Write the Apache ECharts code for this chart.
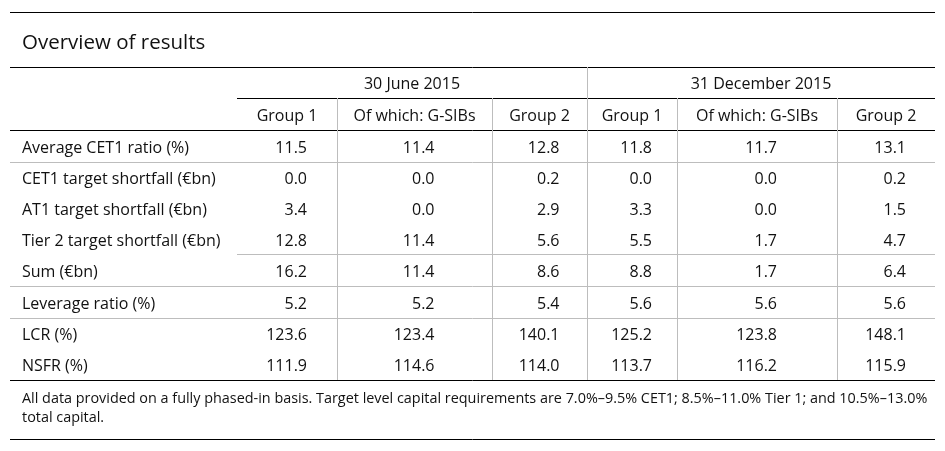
<!DOCTYPE html>
<html>
<head>
<meta charset="utf-8">
<script src="https://cdn.jsdelivr.net/npm/echarts@6/dist/echarts.min.js"></script>
<style>
html,body{margin:0;padding:0;background:#fff;}
#c{width:945px;height:451px;}
</style>
</head>
<body>
<div id="c"></div>
<script>
// ---- data ----
const titleText = 'Overview of results';
const periods = ['30 June 2015', '31 December 2015'];
const groups = ['Group 1', 'Of which: G-SIBs', 'Group 2'];
const metrics = ['Average CET1 ratio (%)', 'CET1 target shortfall (€bn)', 'AT1 target shortfall (€bn)',
  'Tier 2 target shortfall (€bn)', 'Sum (€bn)', 'Leverage ratio (%)', 'LCR (%)', 'NSFR (%)'];
const jun2015Group1 = [11.5, 0.0, 3.4, 12.8, 16.2, 5.2, 123.6, 111.9];
const jun2015GSIBs  = [11.4, 0.0, 0.0, 11.4, 11.4, 5.2, 123.4, 114.6];
const jun2015Group2 = [12.8, 0.2, 2.9, 5.6, 8.6, 5.4, 140.1, 114.0];
const dec2015Group1 = [11.8, 0.0, 3.3, 5.5, 8.8, 5.6, 125.2, 113.7];
const dec2015GSIBs  = [11.7, 0.0, 0.0, 1.7, 1.7, 5.6, 123.8, 116.2];
const dec2015Group2 = [13.1, 0.2, 1.5, 4.7, 6.4, 5.6, 148.1, 115.9];
const footnoteLines = [
  'All data provided on a fully phased-in basis. Target level capital requirements are 7.0%–9.5% CET1; 8.5%–11.0% Tier 1; and 10.5%–13.0%',
  'total capital.'
];
// rows after which a full-width separator is drawn / partial separator (index of row above the line)
const fullSeparatorsAfter = [0, 4, 5];
const partialSeparatorsAfter = [3];

// ---- layout ----
const FONT = '"Open Sans", "Noto Sans", sans-serif';
const W = 945, H = 451;
const colEdges = [10, 237, 337, 492, 587, 677, 837, 935];
const topRule = 12, titleRule = 67, dateRule = 98, headRule = 130;
const rowEdges = [130, 162, 193, 224, 254, 286, 318, 349, 380];
const bottomRule = 439;
const labelX = 22;
const numHalf = 20;
const textDy = 2;
const BLACK = '#000', GREY = '#bdbdbd', TXT = '#111';

const columns = [jun2015Group1, jun2015GSIBs, jun2015Group2, dec2015Group1, dec2015GSIBs, dec2015Group2];
const L = colEdges[0], R = colEdges[colEdges.length - 1];

// rules: [x1, y1, x2, y2, color]
const rules = [];
[topRule, titleRule, headRule, rowEdges[rowEdges.length - 1], bottomRule].forEach(y => rules.push([L, y, R, y, BLACK]));
rules.push([colEdges[1], dateRule, R, dateRule, BLACK]);
fullSeparatorsAfter.forEach(r => rules.push([L, rowEdges[r + 1], R, rowEdges[r + 1], GREY]));
partialSeparatorsAfter.forEach(r => rules.push([colEdges[1], rowEdges[r + 1], R, rowEdges[r + 1], GREY]));
for (let c = 2; c < colEdges.length - 1; c++) {
  const yTop = (c === 1 + groups.length) ? titleRule : dateRule;
  rules.push([colEdges[c], yTop, colEdges[c], rowEdges[rowEdges.length - 1], GREY]);
}

// text cells: [x, y, text, align]
const texts = [];
periods.forEach((p, i) => {
  const x0 = colEdges[1 + i * groups.length], x1 = colEdges[1 + (i + 1) * groups.length];
  texts.push([(x0 + x1) / 2, (titleRule + dateRule) / 2 + textDy, p, 'center']);
  groups.forEach((g, j) => {
    const c = 1 + i * groups.length + j;
    texts.push([(colEdges[c] + colEdges[c + 1]) / 2, (dateRule + headRule) / 2 + textDy, g, 'center']);
  });
});
metrics.forEach((m, r) => {
  const yc = (rowEdges[r] + rowEdges[r + 1]) / 2 + textDy;
  texts.push([labelX, yc, m, 'left']);
  columns.forEach((col, c) => {
    const xc = (colEdges[c + 1] + colEdges[c + 2]) / 2;
    texts.push([xc + numHalf, yc, col[r].toFixed(1), 'right']);
  });
});

const chart = echarts.init(document.getElementById('c'), null, {renderer: 'canvas'});
chart.setOption({
  backgroundColor: '#fff',
  animation: false,
  title: {
    text: titleText, left: labelX - 5, top: 28,
    textStyle: {fontFamily: FONT, fontSize: 20.5, fontWeight: 'normal', color: TXT}
  },
  grid: {left: 0, right: 0, top: 0, bottom: 0},
  xAxis: {type: 'value', min: 0, max: W, show: false},
  yAxis: {type: 'value', min: 0, max: H, inverse: true, show: false},
  series: [
    {
      type: 'custom', name: 'rules', silent: true,
      data: rules.map(r => [r[0], r[1], r[2], r[3]]),
      renderItem: function (params, api) {
        const p1 = api.coord([api.value(0), api.value(1)]);
        const p2 = api.coord([api.value(2), api.value(3)]);
        const horiz = p1[1] === p2[1];
        const o = 0.5;
        return {
          type: 'line',
          shape: horiz
            ? {x1: p1[0], y1: Math.round(p1[1]) + o, x2: p2[0], y2: Math.round(p2[1]) + o}
            : {x1: Math.round(p1[0]) + o, y1: p1[1], x2: Math.round(p2[0]) + o, y2: p2[1]},
          style: {stroke: rules[params.dataIndex][4], lineWidth: 1}
        };
      }
    },
    {
      type: 'custom', name: 'cells', silent: true,
      data: texts.map(t => [t[0], t[1]]),
      renderItem: function (params, api) {
        const t = texts[params.dataIndex];
        const p = api.coord([api.value(0), api.value(1)]);
        return {
          type: 'text',
          x: p[0], y: p[1],
          style: {text: t[2], fill: TXT, font: '16px ' + FONT, align: t[3], verticalAlign: 'middle'}
        };
      }
    },
    {
      type: 'custom', name: 'footnote', silent: true,
      data: footnoteLines.map((s, i) => [labelX, 399 + i * 19]),
      renderItem: function (params, api) {
        const p = api.coord([api.value(0), api.value(1)]);
        return {
          type: 'text', x: p[0], y: p[1],
          style: {text: footnoteLines[params.dataIndex], fill: TXT, font: '14.4px ' + FONT, align: 'left', verticalAlign: 'middle'}
        };
      }
    }
  ]
});
</script>
</body>
</html>
